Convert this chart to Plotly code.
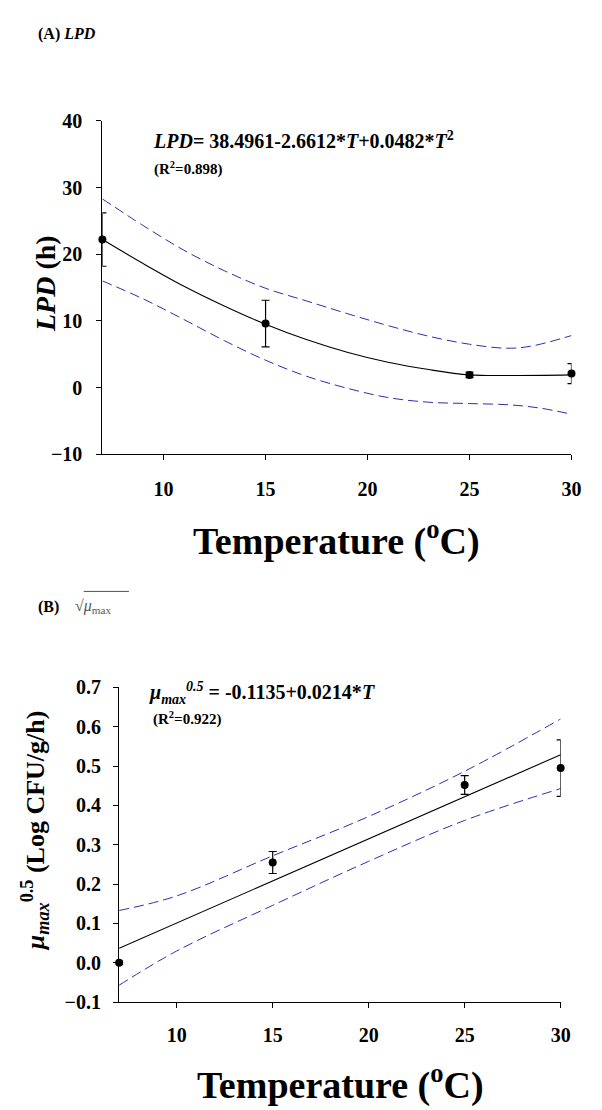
import plotly.graph_objects as go

# ---------------- Panel A: LPD ----------------
temps = [7, 15, 25, 30]
lpd_mean = [22.2, 9.6, 1.9, 2.1]
lpd_err = [4.0, 3.5, 0.4, 1.5]

lpd_fit_T = [7, 9, 11, 13, 15, 17, 19, 21, 23, 25, 27, 30]
lpd_fit = [22.2, 18.6, 15.2, 12.2, 9.5, 7.2, 5.3, 3.8, 2.7, 1.9, 1.8, 1.9]

lpd_up_T = [7, 9, 11, 13, 15, 17, 19, 21, 23, 25, 26.8, 28, 30]
lpd_up = [28.3, 24.3, 20.6, 17.5, 14.9, 13.0, 11.1, 9.3, 7.7, 6.5, 5.9, 6.2, 7.8]

lpd_lo_T = [7, 9, 11, 13, 15, 17, 19, 21, 23, 25, 27, 28.5, 30]
lpd_lo = [16.0, 13.3, 10.2, 7.0, 4.1, 1.7, -0.1, -1.5, -2.2, -2.4, -2.6, -3.1, -4.0]

# ---------------- Panel B: sqrt(mu_max) ----------------
mu_mean = [0.0, 0.255, 0.452, 0.495]
mu_err = [0.004, 0.028, 0.024, 0.072]

mu_fit_T = [7, 30]
mu_fit = [0.037, 0.529]

mu_ci_T = [7, 10, 15, 20, 25, 30]
mu_up = [0.133, 0.170, 0.272, 0.372, 0.487, 0.620]
mu_lo = [-0.057, 0.030, 0.146, 0.258, 0.362, 0.443]

xticks = [10, 15, 20, 25, 30]
lpd_yticks = [-10, 0, 10, 20, 30, 40]
mu_yticks = [-0.1, 0.0, 0.1, 0.2, 0.3, 0.4, 0.5, 0.6, 0.7]

FONT = "Liberation Serif"
CI_COLOR = "#2e2eb0"
W, H = 602, 1110


def px(x):
    return x / W


def py(y):
    return 1 - y / H


fig = go.Figure()

# Panel A traces
fig.add_trace(go.Scatter(x=lpd_up_T, y=lpd_up, mode="lines", line=dict(color=CI_COLOR, width=1, dash="10px,5px"),
                         xaxis="x", yaxis="y", showlegend=False, line_shape="spline"))
fig.add_trace(go.Scatter(x=lpd_lo_T, y=lpd_lo, mode="lines", line=dict(color=CI_COLOR, width=1, dash="10px,5px"),
                         xaxis="x", yaxis="y", showlegend=False, line_shape="spline"))
fig.add_trace(go.Scatter(x=lpd_fit_T, y=lpd_fit, mode="lines", line=dict(color="black", width=1.1),
                         xaxis="x", yaxis="y", showlegend=False, line_shape="spline"))
fig.add_trace(go.Scatter(x=temps, y=lpd_mean, mode="markers", marker=dict(color="black", size=8),
                         error_y=dict(type="data", array=lpd_err, color="black", thickness=1.2, width=4),
                         xaxis="x", yaxis="y", showlegend=False, cliponaxis=False))

# Panel B traces
fig.add_trace(go.Scatter(x=mu_ci_T, y=mu_up, mode="lines", line=dict(color=CI_COLOR, width=1, dash="10px,5px"),
                         xaxis="x2", yaxis="y2", showlegend=False, line_shape="spline"))
fig.add_trace(go.Scatter(x=mu_ci_T, y=mu_lo, mode="lines", line=dict(color=CI_COLOR, width=1, dash="10px,5px"),
                         xaxis="x2", yaxis="y2", showlegend=False, line_shape="spline"))
fig.add_trace(go.Scatter(x=mu_fit_T, y=mu_fit, mode="lines", line=dict(color="black", width=1.1),
                         xaxis="x2", yaxis="y2", showlegend=False))
fig.add_trace(go.Scatter(x=temps, y=mu_mean, mode="markers", marker=dict(color="black", size=8),
                         error_y=dict(type="data", array=mu_err, color="black", thickness=1.2, width=4),
                         xaxis="x2", yaxis="y2", showlegend=False, cliponaxis=False))

axis_common = dict(showgrid=False, zeroline=False, showline=True, linecolor="black", linewidth=1.2,
                   ticks="outside", ticklen=5, tickwidth=1.2, tickcolor="black",
                   tickfont=dict(family=FONT, size=20, color="black", weight="bold"))

fig.update_layout(
    width=W, height=H,
    margin=dict(l=0, r=0, t=0, b=0),
    paper_bgcolor="white", plot_bgcolor="white",
    font=dict(family=FONT, color="black"),
    xaxis=dict(domain=[px(96), px(573)], range=[7, 30], tickvals=xticks, anchor="y",
               ticklabelstandoff=12, **axis_common),
    yaxis=dict(domain=[py(444), py(104)], range=[-10, 40], tickvals=lpd_yticks, anchor="x",
               ticklabelstandoff=10, **axis_common),
    xaxis2=dict(domain=[px(113), px(562)], range=[7, 30], tickvals=xticks, anchor="y2",
                ticklabelstandoff=10, **axis_common),
    yaxis2=dict(domain=[py(1003), py(682)], range=[-0.1, 0.7], tickvals=mu_yticks, anchor="x2",
                tickformat=".1f", ticklabelstandoff=8, **axis_common),
)

ann = []


def add(text, x, y, size, xanchor="left", yanchor="middle", angle=0, color="black"):
    ann.append(dict(text=text, x=px(x), y=py(y), xref="paper", yref="paper", xanchor=xanchor,
                    yanchor=yanchor, showarrow=False, textangle=angle,
                    font=dict(family=FONT, size=size, color=color)))


# Panel titles
add("<b>(A) <i>LPD</i></b>", 28, 15, 16)
add("<b>(B)</b>", 28, 600, 16)
add("√<i>μ</i><sub>max</sub>", 66, 599, 16, color="#555555")

# Equations
add("<b><i>LPD</i>= 38.4961-2.6612*<i>T</i>+0.0482*<i>T</i><sup>2</sup></b>", 145, 123, 20)
add("<b>(R<sup>2</sup>=0.898)</b>", 146, 153, 15)
add("<b><i>μ<sub>max</sub></i><sup><i>0.5</i></sup> = -0.1135+0.0214*<i>T</i></b>", 141, 688, 20)
add("<b>(R<sup>2</sup>=0.922)</b>", 145, 714, 15)

# Axis titles
add("<b>Temperature (<sup>o</sup>C)</b>", 334, 530, 38, xanchor="center")
add("<b><i>LPD</i> (h)</b>", 38, 270, 28, xanchor="center", angle=-90)
add("<b>Temperature (<sup>o</sup>C)</b>", 338, 1085, 38, xanchor="center")
add("<b><i>μ<sub>max</sub></i><sup>0.5</sup> (Log CFU/g/h)</b>", 27, 828, 26, xanchor="center", angle=-90)

fig.update_layout(annotations=ann)

# overline of the square-root sign in panel B title
fig.add_shape(type="line", xref="paper", yref="paper", x0=px(77), x1=px(123), y0=py(584), y1=py(584),
              line=dict(color="#555555", width=1))

fig.write_html("out.html")
